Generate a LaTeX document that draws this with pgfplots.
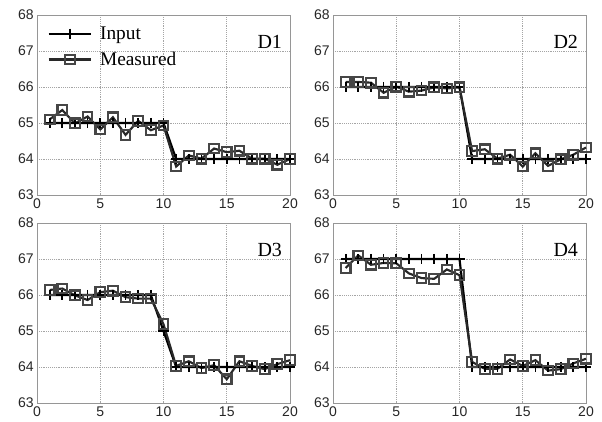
\documentclass[border=0pt]{standalone}
\usepackage{fontspec}
\setmainfont{Liberation Serif}
\setsansfont{Liberation Sans}
\usepackage{pgfplots}
\pgfplotsset{compat=1.18}
\definecolor{gridc}{RGB}{165,165,165}
\definecolor{axc}{RGB}{150,150,150}
\definecolor{meas}{RGB}{40,40,40}
\definecolor{measm}{RGB}{70,70,70}
\tikzset{dlab/.style={font=\fontsize{15}{17}\selectfont}}
\pgfplotsset{
 panel/.style={width=189.75pt,height=135pt,scale only axis,
  xmin=0,xmax=20,ymin=63,ymax=68,
  xtick={0,5,...,20}, ytick={63,...,68},
  grid=major, grid style={densely dotted, gridc, line width=0.6pt},
  axis line style={axc, line width=0.6pt}, tick style={draw=none},
  tick label style={font=\sffamily\fontsize{10.5}{12}\selectfont, text=black!85},
  /pgf/number format/assume math mode=true,
  xticklabel style={yshift=1pt}, yticklabel style={xshift=1pt},
  anchor=north west, clip=false},
 inp/.style={black, line width=1.6pt, mark=+, mark size=3.8pt, mark options={line width=1.3pt}},
 mea/.style={meas, line width=1.6pt, mark=square, mark size=3.6pt, mark options={measm, line width=1.6pt, fill=none}},
}
\begin{document}
\begin{tikzpicture}
\useasboundingbox (0,0) rectangle (451.5pt,-315.75pt);
% D1
\begin{axis}[panel, at={(27.75pt,-11.25pt)},
  legend style={at={(0.035,0.96)}, anchor=north west, draw=none, fill=none,
    font=\fontsize{14.5}{16}\selectfont, row sep=4pt, inner sep=1pt,
    nodes={inner xsep=6pt}},
  legend cell align=left,
  legend image code/.code={\draw[mark repeat=2,mark phase=2,#1] plot coordinates {(0cm,0cm) (0.56cm,0cm) (1.12cm,0cm)};}]
\addplot[inp] coordinates {(1,65)(2,65)(3,65)(4,65)(5,65)(6,65)(7,65)(8,65)(9,65)(10,65)(11,64)(12,64)(13,64)(14,64)(15,64)(16,64)(17,64)(18,64)(19,64)(20,64)};
\addplot[mea] coordinates {(1,65.10)(2,65.36)(3,64.99)(4,65.18)(5,64.82)(6,65.16)(7,64.67)(8,65.06)(9,64.80)(10,64.93)(11,63.79)(12,64.10)(13,64.01)(14,64.29)(15,64.19)(16,64.23)(17,64.01)(18,64.01)(19,63.84)(20,64.00)};
\legend{Input,Measured}
\node[dlab] at (axis cs:18.4,67.25) {D1};
\end{axis}
% D2
\begin{axis}[panel, at={(249.75pt,-11.25pt)}]
\addplot[inp] coordinates {(1,66)(2,66)(3,66)(4,66)(5,66)(6,66)(7,66)(8,66)(9,66)(10,66)(11,64)(12,64)(13,64)(14,64)(15,64)(16,64)(17,64)(18,64)(19,64)(20,64)};
\addplot[mea] coordinates {(1,66.14)(2,66.14)(3,66.12)(4,65.84)(5,66.01)(6,65.87)(7,65.90)(8,65.99)(9,65.96)(10,65.99)(11,64.22)(12,64.27)(13,64.01)(14,64.12)(15,63.79)(16,64.16)(17,63.81)(18,63.99)(19,64.12)(20,64.32)};
\node[dlab] at (axis cs:18.4,67.25) {D2};
\end{axis}
% D3
\begin{axis}[panel, at={(27.75pt,-167.25pt)}]
\addplot[inp] coordinates {(1,66)(2,66)(3,66)(4,66)(5,66)(6,66)(7,66)(8,66)(9,66)(10,65)(11,64)(12,64)(13,64)(14,64)(15,64)(16,64)(17,64)(18,64)(19,64)(20,64)};
\addplot[mea] coordinates {(1,66.14)(2,66.18)(3,65.99)(4,65.86)(5,66.08)(6,66.12)(7,65.94)(8,65.90)(9,65.90)(10,65.19)(11,64.03)(12,64.16)(13,63.97)(14,64.05)(15,63.66)(16,64.16)(17,64.03)(18,63.94)(19,64.08)(20,64.19)};
\node[dlab] at (axis cs:18.4,67.25) {D3};
\end{axis}
% D4
\begin{axis}[panel, at={(249.75pt,-167.25pt)}]
\addplot[inp] coordinates {(1,67)(2,67)(3,67)(4,67)(5,67)(6,67)(7,67)(8,67)(9,67)(10,67)(11,64)(12,64)(13,64)(14,64)(15,64)(16,64)(17,64)(18,64)(19,64)(20,64)};
\addplot[mea] coordinates {(1,66.75)(2,67.10)(3,66.84)(4,66.89)(5,66.88)(6,66.60)(7,66.47)(8,66.45)(9,66.71)(10,66.55)(11,64.14)(12,63.95)(13,63.95)(14,64.21)(15,64.03)(16,64.19)(17,63.90)(18,63.94)(19,64.10)(20,64.23)};
\node[dlab] at (axis cs:18.4,67.25) {D4};
\end{axis}
\end{tikzpicture}
\end{document}
